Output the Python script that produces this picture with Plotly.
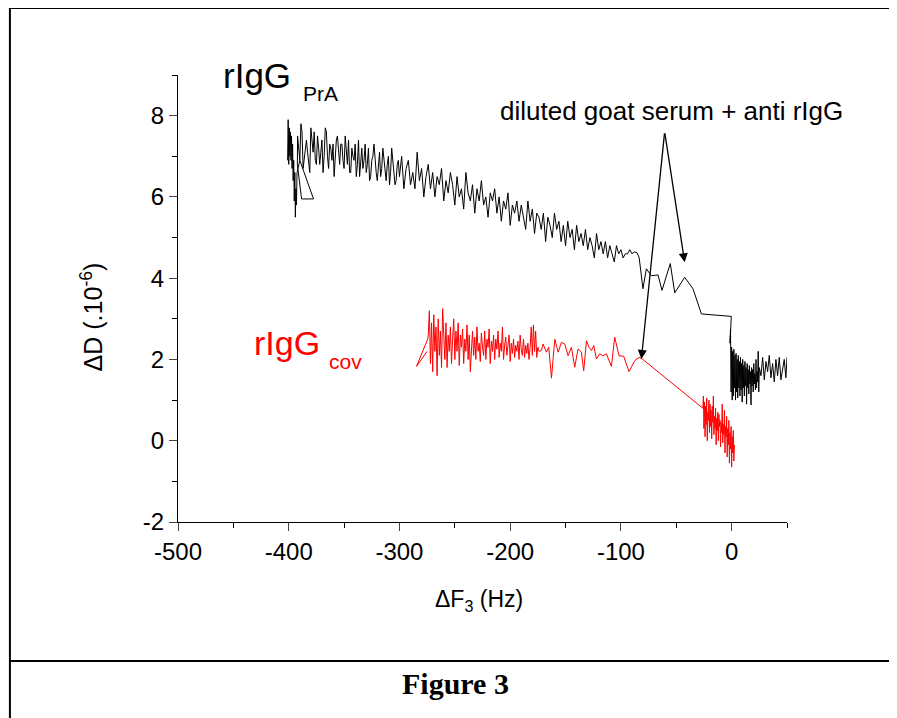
import plotly.graph_objects as go

# ---------------- data ----------------
# rIgG PrA (black) : start burst near -400 Hz
prA_start_x = [-401, -400.5, -400, -399.5, -399, -398.5, -398, -397.5, -397, -396.5, -396, -395.5,
               -395, -394.5, -394, -393.5, -393, -392.5, -390, -377.6, -388.4, -392.2]
prA_start_y = [6.9, 7.9, 6.8, 7.7, 7.0, 7.6, 6.9, 7.5, 6.7, 7.3, 6.4, 6.9,
               5.9, 6.6, 5.5, 6.2, 5.8, 6.6, 6.9, 5.95, 5.95, 6.8]
# rIgG PrA : main descending noisy band (even-Hz readings)
prA_main_x = [-392, -390, -388, -386, -384, -382, -380, -378, -376, -374,
              -372, -370, -368, -366, -364, -362, -360, -358, -356, -354,
              -352, -350, -348, -346, -344, -342, -340, -338, -336, -334,
              -332, -330, -328, -326, -324, -322, -320, -318, -316, -314,
              -312, -310, -308, -306, -304, -302, -300, -298, -296, -294,
              -292, -290, -288, -286, -284, -282, -280, -278, -276, -274,
              -272, -270, -268, -266, -264, -262, -260, -258, -256, -254,
              -252, -250, -248, -246, -244, -242, -240, -238, -236, -234,
              -232, -230, -228, -226, -224, -222, -220, -218, -216, -214,
              -212, -210, -208, -206, -204, -202, -200, -198, -196, -194,
              -192, -190, -188, -186, -184, -182, -180, -178, -176, -174,
              -172, -170, -168, -166, -164, -162, -160, -158, -156, -154,
              -152, -150, -148, -146, -144, -142, -140, -138, -136, -134,
              -132, -130, -128, -126, -124, -122, -120, -118, -116, -114,
              -112, -110, -108, -106, -104, -102, -100, -98, -96, -94,
              -92, -90, -88]
prA_main_y = [7.5, 6.9, 7.6, 7.0, 7.4, 6.8, 7.7, 7.1, 6.9, 7.5,
              6.8, 7.4, 7.0, 7.6, 6.7, 7.2, 7.3, 6.9, 7.5, 6.8,
              7.3, 6.7, 7.1, 7.4, 6.6, 7.0, 7.3, 6.8, 6.5, 7.2,
              6.9, 6.6, 7.2, 6.5, 7.0, 6.8, 6.4, 7.1, 6.7, 6.9,
              6.4, 7.0, 6.6, 6.9, 6.3, 6.8, 6.5, 7.0, 6.2, 6.7,
              6.9, 6.3, 6.6, 6.2, 7.1, 6.4, 6.7, 6.0, 6.5, 6.8,
              6.2, 6.6, 6.0, 6.5, 6.3, 6.7, 5.9, 6.4, 6.1, 6.6,
              6.3, 5.8, 6.5, 6.0, 6.2, 5.7, 6.6, 6.1, 5.9, 6.3,
              5.6, 6.2, 5.9, 6.4, 5.8, 6.0, 5.5, 6.1, 5.9, 6.2,
              5.6, 6.0, 5.4, 5.9, 5.7, 6.1, 5.3, 5.8, 5.6, 5.9,
              5.4, 5.8, 5.5, 5.2, 5.9, 5.4, 5.7, 5.1, 5.6, 5.5,
              5.2, 5.6, 4.9, 5.5, 5.3, 5.0, 5.6, 5.2, 5.4, 4.9,
              5.3, 4.8, 5.4, 5.0, 5.2, 4.7, 5.3, 4.9, 5.1, 4.8,
              5.2, 4.7, 5.0, 4.8, 4.5, 5.1, 4.7, 4.9, 4.6, 4.9,
              4.5, 4.8, 4.6, 4.4, 4.8, 4.6, 4.7, 4.5, 4.6, 4.6,
              4.7, 4.6, 4.65]
# rIgG PrA : extra (odd-Hz) readings in the densest part of the band
prA_odd_x = [-391, -389, -387, -385, -383, -381, -379, -377, -375, -373,
             -371, -369, -367, -365, -363, -361, -359, -357, -355, -353,
             -351, -349, -347, -345, -343, -341, -339, -337, -335, -333,
             -331, -329, -327, -325, -323, -321, -319, -317, -315, -313,
             -311, -309, -307, -305, -303, -301]
prA_odd_y = [7.2, 7.8, 6.7, 7.3, 7.1, 6.6, 7.4, 7.6, 6.8, 7.2,
             7.1, 6.6, 7.7, 7.0, 7.3, 6.9, 6.5, 7.4, 7.0, 7.3,
             6.9, 7.5, 6.8, 6.6, 7.2, 6.9, 6.5, 7.4, 6.9, 6.7,
             7.3, 6.8, 6.4, 6.9, 7.3, 6.6, 6.9, 6.5, 7.2, 6.6,
             6.8, 6.3, 7.2, 6.7, 6.4, 6.9]
# rIgG PrA : sparse part during serum injection
prA_sparse_x = [-85.3, -83.5, -80.1, -77.0, -72.5, -66.5, -62.9, -55.4, -51.4, -42.4, -34.9, -27.3, -0.3]
prA_sparse_y = [4.62, 4.5, 3.74, 4.23, 4.06, 4.08, 3.70, 4.36, 3.64, 4.02, 3.74, 3.12, 3.06]
# rIgG PrA : final cluster around 0 Hz
prA_end_x = [-1.5, -1, -0.5, 0, 0.5, 1, 1.5, 2, 2.5, 3,
             3.5, 4, 4.5, 5, 5.5, 6, 6.5, 7, 7.5, 8,
             8.5, 9, 9.5, 10, 10.5, 11, 11.5, 12, 12.5, 13,
             13.5, 14, 14.5, 15, 15.5, 16, 16.5, 17, 17.5, 18,
             18.5, 19, 19.5, 20, 20.5, 21, 21.5, 22, 22.5, 23,
             23.5, 24, 24.5, 25,
             26.5, 28, 29.5, 31, 32.5, 34, 35.5, 37, 38.5, 40, 41.5, 43, 44.5, 46, 47.5, 49, 50]
prA_end_y = [2.4, 2.75, 1.2, 2.3, 1.0, 2.2, 1.1, 2.25, 1.3, 2.1,
             1.0, 2.15, 1.2, 2.0, 1.05, 2.1, 1.3, 1.95, 1.1, 2.05,
             1.25, 1.9, 0.95, 2.0, 1.3, 1.85, 1.1, 1.95, 1.35, 1.8,
             0.9, 1.9, 1.3, 1.75, 1.15, 1.85, 1.4, 1.7, 0.88, 1.8,
             1.35, 1.75, 1.2, 1.9, 1.4, 1.65, 1.25, 2.0, 1.3, 1.7,
             1.45, 2.2, 1.2, 1.8,
             1.6, 2.05, 1.5, 1.95, 1.7, 2.1, 1.55, 1.9, 1.45, 2.0, 1.6, 2.05, 1.5, 1.75, 2.0, 1.55, 2.05]

# rIgG cov (red)
cov_start_x = [-275, -284.6, -274.5]
cov_start_y = [2.2, 1.83, 2.5]
cov_main_x = [-274, -273, -272, -271, -270, -269, -268, -267, -266, -265,
              -264, -263, -262, -261, -260, -259, -258, -257, -256, -255,
              -254, -253, -252, -251, -250, -249, -248, -247, -246, -245,
              -244, -243, -242, -241, -240, -239, -238, -237, -236, -235,
              -234, -233, -232, -231, -230, -229, -228, -227, -226, -225,
              -224, -223, -222, -221, -220, -219, -218, -217, -216, -215,
              -214, -213, -212, -211, -210, -209, -208, -207, -206, -205,
              -204, -203, -202, -201, -200, -199, -198, -197, -196, -195,
              -194, -193, -192, -191, -190, -189, -188, -187, -186, -185,
              -184, -183, -182, -181, -180, -179, -178, -177, -176, -175,
              -174]
cov_main_y = [2.6, 3.2, 1.9, 2.9, 1.7, 3.1, 2.2, 2.8, 1.6, 3.0,
              2.1, 2.7, 1.8, 3.25, 2.3, 2.0, 2.9, 1.8, 2.6, 2.2,
              2.8, 1.9, 2.5, 3.0, 2.0, 2.7, 2.2, 2.9, 1.85, 2.6,
              2.3, 2.75, 1.9, 2.5, 2.2, 2.85, 2.0, 2.6, 1.7, 2.45,
              2.7, 2.1, 2.55, 2.0, 2.8, 2.2, 2.4, 1.95, 2.65, 2.3,
              2.1, 2.7, 2.0, 2.5, 2.3, 2.75, 1.9, 2.45, 2.2, 2.6,
              2.0, 2.5, 2.25, 2.7, 2.05, 2.4, 2.2, 2.8, 2.0, 2.35,
              2.55, 2.1, 2.3, 2.6, 1.95, 2.4, 2.15, 2.5, 2.05, 2.35,
              2.2, 2.45, 2.0, 2.6, 2.25, 2.1, 2.5, 2.05, 2.35, 2.15,
              2.4, 2.0, 2.3, 2.8, 2.1, 2.85, 2.2, 2.7, 2.05, 2.3,
              2.2]
cov_sparse_x = [-171.8, -170.3, -167.3, -165.2, -162.7, -159.7, -156.7, -153.7, -150.7, -147.7,
                -144.7, -141.7, -138.7, -135.7, -133.6, -131.1, -128.8, -126.6, -124.5, -122.1,
                -119.1, -116.2, -113.1, -108.6, -105.6, -101.7, -97.5, -92.7, -87.5, -83.7, -80.6]
cov_sparse_y = [2.22, 2.38, 2.18, 2.30, 1.54, 2.50, 2.18, 2.42, 2.38, 2.09,
                2.30, 1.81, 2.26, 2.18, 1.72, 2.46, 2.30, 2.22, 2.34, 2.01,
                2.14, 2.09, 2.14, 1.83, 2.55, 2.09, 2.08, 1.70, 1.97, 2.05, 2.01]
cov_end_x = [-26, -25.5, -25, -24.5, -24, -23.5, -23, -22.5, -22, -21.5,
             -21, -20.5, -20, -19.5, -19, -18.5, -18, -17.5, -17, -16.5,
             -16, -15.5, -15, -14.5, -14, -13.5, -13, -12.5, -12, -11.5,
             -11, -10.5, -10, -9.5, -9, -8.5, -8, -7.5, -7, -6.5,
             -6, -5.5, -5, -4.5, -4, -3.5, -3, -2.5, -2, -1.5,
             -1, -0.5, 0, 0.5, 1, 1.5, 2, 2.5]
cov_end_y = [0.8, 1.1, 0.3, 0.95, 0.1, 0.85, 0.4, 1.05, 0.0, 0.7,
             0.5, 1.0, 0.2, 0.9, 0.35, 0.75, 0.05, 0.85, 0.45, 1.1,
             0.15, 0.6, 0.3, 0.8, -0.1, 0.55, 0.25, 0.7, 0.0, 0.65,
             0.35, 0.5, -0.15, 0.45, 0.2, 0.9, -0.05, 0.4, 0.15, 0.75,
             -0.3, 0.35, 0.1, 0.6, -0.4, 0.3, -0.1, 0.5, -0.55, 0.2,
             -0.2, 0.35, -0.65, 0.1, -0.3, 0.25, -0.5, -0.1]

x_ticks = [-500, -400, -300, -200, -100, 0]
x_ticktext = ["-500", "-400", "-300", "-200", "-100", "0"]
y_ticks = [-2, 0, 2, 4, 6, 8]
y_ticktext = ["-2", "0", "2", "4", "6", "8"]

# ---------------- figure ----------------
FONT = "Arial, 'Liberation Sans', sans-serif"

band = sorted(zip(prA_main_x + prA_odd_x, prA_main_y + prA_odd_y))
prA_x = prA_start_x + [p[0] for p in band] + prA_sparse_x + prA_end_x
prA_y = prA_start_y + [p[1] for p in band] + prA_sparse_y + prA_end_y
cov_x = cov_start_x + cov_main_x + cov_sparse_x + cov_end_x
cov_y = cov_start_y + cov_main_y + cov_sparse_y + cov_end_y

fig = go.Figure()
fig.add_trace(go.Scatter(x=prA_x, y=prA_y, mode="lines",
                         line=dict(color="black", width=1), name="rIgG PrA"))
fig.add_trace(go.Scatter(x=cov_x, y=cov_y, mode="lines",
                         line=dict(color="#ff0000", width=1), name="rIgG cov"))

fig.update_layout(
    width=889, height=710,
    margin=dict(l=170, r=110, t=67, b=196),
    paper_bgcolor="white", plot_bgcolor="white",
    showlegend=False,
    font=dict(family=FONT, color="black", size=24),
    xaxis=dict(range=[-500, 50], tickvals=x_ticks, ticktext=x_ticktext, ticks="outside",
               ticklen=8, tickwidth=1.3,
               showline=True, linecolor="black", linewidth=1.3, showgrid=False, zeroline=False,
               tickfont=dict(size=24),
               minor=dict(ticks="outside", ticklen=5, tickwidth=1.3, tickcolor="black",
                          tickvals=[-450, -350, -250, -150, -50, 50])),
    yaxis=dict(range=[-2, 9], tickvals=y_ticks, ticktext=y_ticktext, ticks="outside",
               ticklen=8, tickwidth=1.3,
               showline=True, linecolor="black", linewidth=1.3, showgrid=False, zeroline=False,
               tickfont=dict(size=24),
               minor=dict(ticks="outside", ticklen=5, tickwidth=1.3, tickcolor="black",
                          tickvals=[-1, 1, 3, 5, 7, 9])),
)

ann = []
# axis titles
ann.append(dict(xref="paper", yref="paper", x=0.495, y=-0.176, text="ΔF<sub>3</sub> (Hz)",
                showarrow=False, font=dict(size=23), xanchor="center", yanchor="middle"))
ann.append(dict(xref="paper", yref="paper", x=-0.141, y=0.458, text="ΔD (.10<sup>-6</sup>)",
                showarrow=False, font=dict(size=25), textangle=-90, xanchor="center", yanchor="middle"))
# labels
ann.append(dict(x=-461, y=9.0, text="rIgG", showarrow=False, font=dict(size=35, color="black"),
                xanchor="left", yanchor="middle"))
ann.append(dict(x=-388.5, y=8.54, text="PrA", showarrow=False, font=dict(size=21, color="black"),
                xanchor="left", yanchor="middle"))
ann.append(dict(x=-433, y=2.41, text="rIgG", showarrow=False, font=dict(size=34, color="#ff0000"),
                xanchor="left", yanchor="middle"))
ann.append(dict(x=-365, y=1.94, text="cov", showarrow=False, font=dict(size=21, color="#ff0000"),
                xanchor="left", yanchor="middle"))
ann.append(dict(x=-211, y=8.12, text="diluted goat serum + anti rIgG", showarrow=False,
                font=dict(size=26, color="black"), xanchor="left", yanchor="middle"))
# arrows
for tx, ty in [(-81.5, 2.01), (-42.4, 4.39)]:
    ann.append(dict(x=tx, y=ty, ax=-60.5, ay=7.6, axref="x", ayref="y", text="",
                    showarrow=True, arrowhead=2, arrowsize=1.4, arrowwidth=1.3, arrowcolor="black"))
# figure caption
ann.append(dict(xref="paper", yref="paper", x=0.456, y=-0.362, text="<b>Figure 3</b>", showarrow=False,
                font=dict(family="'Times New Roman', 'Liberation Serif', serif", size=30, color="black"),
                xanchor="center", yanchor="middle"))
fig.update_layout(annotations=ann)

# page frame lines (paper coords)
L, R, T, B, H = -0.276, 1.178, 1.150, -0.46, -0.311
for x0, y0, x1, y1 in [(L, T, R, T), (L, T, L, B), (R, T, R, B), (L, H, R, H)]:
    fig.add_shape(type="line", xref="paper", yref="paper", x0=x0, y0=y0, x1=x1, y1=y1,
                  line=dict(color="black", width=2))

fig.write_html("out.html")
